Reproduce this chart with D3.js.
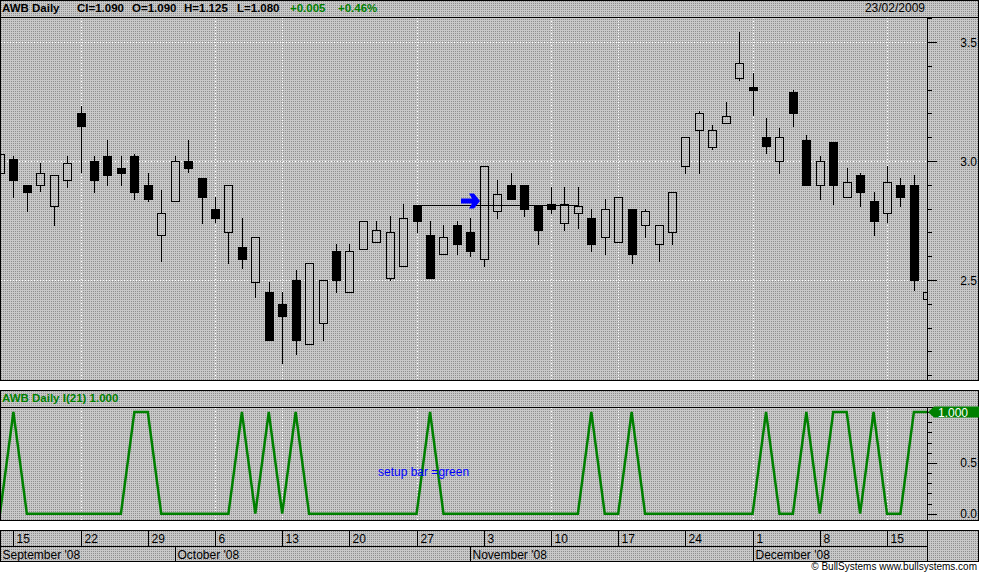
<!DOCTYPE html>
<html><head><meta charset="utf-8">
<script src="https://cdn.jsdelivr.net/npm/d3@7/dist/d3.min.js"></script>
<style>body{margin:0;background:#fff}svg{display:block}text{font-family:"Liberation Sans",Arial,sans-serif}</style>
</head><body>
<script>
// ---- data (bar index -1 .. 68, index 0 = Mon 15 Sep 2008) ----
const barIndex = d3.range(-1, 69);
const opens  = [2.95,3.01,2.90,2.90,2.81,2.92,3.20,3.00,3.02,2.97,3.02,2.90,2.69,2.83,3.00,2.93,2.80,2.70,2.64,2.49,2.45,2.40,2.50,2.23,2.32,2.62,2.45,2.63,2.66,2.51,2.56,2.815,2.69,2.61,2.73,2.70,2.59,2.79,2.90,2.90,2.81,2.82,2.74,2.78,2.76,2.68,2.66,2.80,2.73,2.65,2.70,2.98,3.13,3.06,3.16,3.35,3.31,3.10,3.00,3.29,3.09,2.90,3.08,2.85,2.94,2.83,2.78,2.90,2.90,2.42];
const highs  = [3.03,3.02,2.90,2.99,2.94,3.02,3.23,3.02,3.09,3.02,3.03,2.95,2.88,3.02,3.09,2.93,2.85,2.90,2.76,2.68,2.49,2.45,2.54,2.57,2.50,2.65,2.65,2.75,2.75,2.77,2.82,2.815,2.75,2.73,2.75,2.76,2.98,2.92,2.95,2.90,2.81,2.89,2.89,2.89,2.80,2.84,2.85,2.80,2.80,2.73,2.87,3.10,3.21,3.15,3.25,3.54,3.37,3.18,3.14,3.30,3.11,3.02,3.08,2.97,2.95,2.87,2.98,2.93,2.94,2.45];
const lows   = [2.95,2.85,2.79,2.875,2.73,2.89,2.955,2.87,2.90,2.90,2.84,2.83,2.58,2.83,2.955,2.74,2.745,2.57,2.55,2.43,2.25,2.15,2.19,2.23,2.25,2.45,2.45,2.63,2.66,2.50,2.56,2.70,2.51,2.61,2.61,2.60,2.56,2.76,2.84,2.77,2.65,2.78,2.71,2.72,2.62,2.61,2.66,2.57,2.68,2.58,2.65,2.95,2.95,3.05,3.16,3.34,3.195,3.035,2.95,3.145,2.90,2.84,2.82,2.85,2.81,2.69,2.745,2.81,2.46,2.42];
const closes = [3.03,2.92,2.87,2.95,2.94,2.99,3.145,2.92,2.94,2.95,2.87,2.84,2.78,3.00,2.97,2.85,2.76,2.90,2.59,2.68,2.25,2.35,2.25,2.57,2.50,2.50,2.62,2.75,2.71,2.70,2.76,2.75,2.51,2.68,2.65,2.62,2.98,2.86,2.84,2.80,2.71,2.80,2.82,2.81,2.65,2.80,2.85,2.61,2.79,2.73,2.87,3.10,3.20,3.13,3.19,3.41,3.30,3.065,3.10,3.20,2.90,3.00,2.90,2.91,2.87,2.75,2.91,2.85,2.50,2.45];
const indicator = [0,1,0,0,0,0,0,0,0,0,1,1,0,0,0,0,0,0,1,0,1,0,1,0,0,0,0,0,0,0,0,0,1,0,0,0,0,0,0,0,0,0,0,0,1,0,0,1,0,0,0,0,0,0,0,0,0,1,0,0,1,0,1,1,0,1,0,0,1,1];
const dayLabels = ["15","22","29","6","13","20","27","3","10","17","24","1","8","15"];
const dayLabelIdx = [0,5,10,15,20,25,30,35,40,45,50,55,60,65];
const monthLabels = ["September '08","October '08","November '08","December '08"];
const monthStartIdx = [null,12,34,55];
const gridIdx = [5,15,20,30,40,45,55,65];
const priceMajor = [2.5,3.0,3.5];
const priceMinor = d3.range(21,37).map(v=>v/10);
const indMajor = [0,0.5,1];
const indMinor = d3.range(0,11).map(v=>v/10);
const setupBar = 30, setupEnd = 42, triggerBar = 35, arrowPrice = 2.833;
const headerParts = [["AWB Daily","#000",2],["Cl=1.090","#000",77],["O=1.090","#000",132],["H=1.125","#000",184],["L=1.080","#000",237],["+0.005","#008000",290],["+0.46%","#008000",338]];

const W=981,H=572;
const plotL=1, plotR=927;
const pTop=17, pBot=380;
const iTop=407, iBot=520;
const x = d3.scaleLinear().domain([0,68]).range([13.4, 13.4+13.44*68]);
const y = d3.scaleLinear().domain([2.5,3.5]).range([280,42]);
const yi = d3.scaleLinear().domain([0,1]).range([513.7,412]);

const svg = d3.select("body").append("svg").attr("width",W).attr("height",H);
const defs = svg.append("defs");
const pat = defs.append("pattern").attr("id","bg").attr("width",2).attr("height",2).attr("patternUnits","userSpaceOnUse");
pat.append("rect").attr("width",2).attr("height",2).attr("fill","#c8c8c8");
pat.append("rect").attr("x",1).attr("y",1).attr("width",1).attr("height",1).attr("fill","#8e8e8e");
defs.append("clipPath").attr("id","cp").append("rect").attr("x",plotL).attr("y",pTop+1).attr("width",plotR-plotL).attr("height",pBot-pTop-1);
defs.append("clipPath").attr("id","ci").append("rect").attr("x",plotL).attr("y",iTop+1).attr("width",plotR-plotL).attr("height",iBot-iTop-1);

const g = svg.append("g").attr("shape-rendering","crispEdges");
function px(v){return Math.round(v)+0.5;}

// ---- price panel ----
g.append("rect").attr("x",0.5).attr("y",0.5).attr("width",978).attr("height",pBot-0.5).attr("fill","url(#bg)").attr("stroke","#000");
g.append("line").attr("x1",0).attr("x2",979).attr("y1",pTop+0.5).attr("y2",pTop+0.5).attr("stroke","#000");
headerParts.forEach(p=>{
  svg.append("text").attr("x",p[2]).attr("y",12).attr("fill",p[1]).attr("font-size",11.5).attr("font-weight","bold").text(p[0]);
});
svg.append("text").attr("x",925).attr("y",12).attr("text-anchor","end").attr("font-size",12).text("23/02/2009");

// grid
const gp = g.append("g").attr("stroke","#fff").attr("stroke-dasharray","1,2");
gridIdx.forEach(i=>{
  gp.append("line").attr("x1",px(x(i))).attr("x2",px(x(i))).attr("y1",pTop+1).attr("y2",pBot);
  gp.append("line").attr("x1",px(x(i))).attr("x2",px(x(i))).attr("y1",iTop+1).attr("y2",iBot);
});
priceMajor.forEach(v=>{
  gp.append("line").attr("x1",plotL).attr("x2",plotR).attr("y1",px(y(v))).attr("y2",px(y(v)));
});

// candles
const cg = g.append("g").attr("clip-path","url(#cp)");
barIndex.forEach((bi,k)=>{
  const o=opens[k],h=highs[k],l=lows[k],c=closes[k];
  const cx=Math.round(x(bi));
  const top=Math.round(y(Math.max(o,c))), bot=Math.round(y(Math.min(o,c)));
  const up = c>=o;
  cg.append("line").attr("x1",cx+0.5).attr("x2",cx+0.5).attr("y1",Math.round(y(h))).attr("y2",top).attr("stroke","#000");
  cg.append("line").attr("x1",cx+0.5).attr("x2",cx+0.5).attr("y1",bot).attr("y2",Math.round(y(l))+1).attr("stroke","#000");
  cg.append("rect").attr("x",cx-4+0.5).attr("y",top+0.5).attr("width",8).attr("height",Math.max(1,bot-top))
    .attr("fill",up?"url(#bg)":"#000").attr("stroke","#000");
});
// setup line and arrow
const sy = px(y(highs[setupBar+1]));
cg.append("line").attr("x1",Math.round(x(setupBar))).attr("x2",Math.round(x(setupEnd))).attr("y1",sy).attr("y2",sy).attr("stroke","#000");
const tx = Math.round(x(triggerBar))-4, ty = Math.round(y(arrowPrice));
svg.append("path").attr("fill","#0000ff")
  .attr("d",`M${tx-19},${ty-2.5}L${tx-8},${ty-2.5}L${tx-11},${ty-7.5}L${tx-6},${ty-7.5}L${tx},${ty}L${tx-6},${ty+7.5}L${tx-11},${ty+7.5}L${tx-8},${ty+2.5}L${tx-19},${ty+2.5}Z`);

// price axis
g.append("line").attr("x1",plotR+0.5).attr("x2",plotR+0.5).attr("y1",pTop).attr("y2",pBot).attr("stroke","#000");
priceMinor.forEach(v=>{
  const major = priceMajor.some(m=>Math.abs(m-v)<1e-6);
  g.append("line").attr("x1",plotR).attr("x2",plotR+(major?10:5)).attr("y1",px(y(v))).attr("y2",px(y(v))).attr("stroke","#000");
});
priceMajor.forEach(v=>{
  svg.append("text").attr("x",977).attr("y",y(v)+4.5).attr("text-anchor","end").attr("font-size",12).text(d3.format(".1f")(v));
});

// ---- indicator panel ----
g.append("rect").attr("x",0.5).attr("y",390.5).attr("width",978).attr("height",iBot-390.5).attr("fill","url(#bg)").attr("stroke","#000").lower();
g.append("line").attr("x1",0).attr("x2",979).attr("y1",iTop+0.5).attr("y2",iTop+0.5).attr("stroke","#000");
svg.append("text").attr("x",2).attr("y",402).attr("fill","#008000").attr("font-size",11.5).attr("font-weight","bold").text("AWB Daily I(21) 1.000");
g.append("line").attr("x1",plotR+0.5).attr("x2",plotR+0.5).attr("y1",iTop).attr("y2",iBot).attr("stroke","#000");
indMinor.forEach(v=>{
  const major = indMajor.some(m=>Math.abs(m-v)<1e-6);
  g.append("line").attr("x1",plotR).attr("x2",plotR+(major?10:5)).attr("y1",px(yi(v))).attr("y2",px(yi(v))).attr("stroke","#000");
});
[0,0.5].forEach(v=>{
  svg.append("text").attr("x",977).attr("y",yi(v)+4.5).attr("text-anchor","end").attr("font-size",12).text(d3.format(".1f")(v));
});
const lineGen = d3.line().x((d,k)=>x(barIndex[k])).y(d=>yi(d));
svg.append("path").attr("clip-path","url(#ci)").attr("d",lineGen(indicator)).attr("fill","none").attr("stroke","#008000").attr("stroke-width",2.5).attr("stroke-linejoin","miter");
svg.append("text").attr("x",378).attr("y",476).attr("fill","#0000ff").attr("font-size",12).text("setup bar =green");
const tagY = yi(indicator[indicator.length-1]);
svg.append("path").attr("fill","#008000").attr("d",`M928,${tagY}L934,${tagY-5.5}L979,${tagY-5.5}L979,${tagY+5.5}L934,${tagY+5.5}Z`);
svg.append("text").attr("x",938).attr("y",tagY+5).attr("fill","#fff").attr("font-size",12).text("1.000");

// ---- x axis ----
const xa = g.append("g");
xa.append("rect").attr("x",0.5).attr("y",530.5).attr("width",plotR).attr("height",31).attr("fill","url(#bg)").attr("stroke","#000");
xa.append("rect").attr("x",plotR+0.5).attr("y",530.5).attr("width",978-plotR).attr("height",31).attr("fill","url(#bg)").attr("stroke","#000");
xa.append("line").attr("x1",0).attr("x2",plotR).attr("y1",546.5).attr("y2",546.5).attr("stroke","#000");
dayLabelIdx.forEach((i,k)=>{
  const xx=px(x(i));
  xa.append("line").attr("x1",xx).attr("x2",xx).attr("y1",530).attr("y2",546).attr("stroke","#000");
  svg.append("text").attr("x",xx+3).attr("y",543).attr("font-size",12).text(dayLabels[k]);
});
monthLabels.forEach((m,k)=>{
  const xx = monthStartIdx[k]===null ? 0.5 : px(x(monthStartIdx[k]));
  if(monthStartIdx[k]!==null) xa.append("line").attr("x1",xx).attr("x2",xx).attr("y1",546).attr("y2",562).attr("stroke","#000");
  svg.append("text").attr("x",xx+2).attr("y",559).attr("font-size",12).text(m);
});
svg.append("text").attr("x",977).attr("y",570).attr("text-anchor","end").attr("font-size",10).text("\u00a9 BullSystems www.bullsystems.com");
</script>
</body></html>
